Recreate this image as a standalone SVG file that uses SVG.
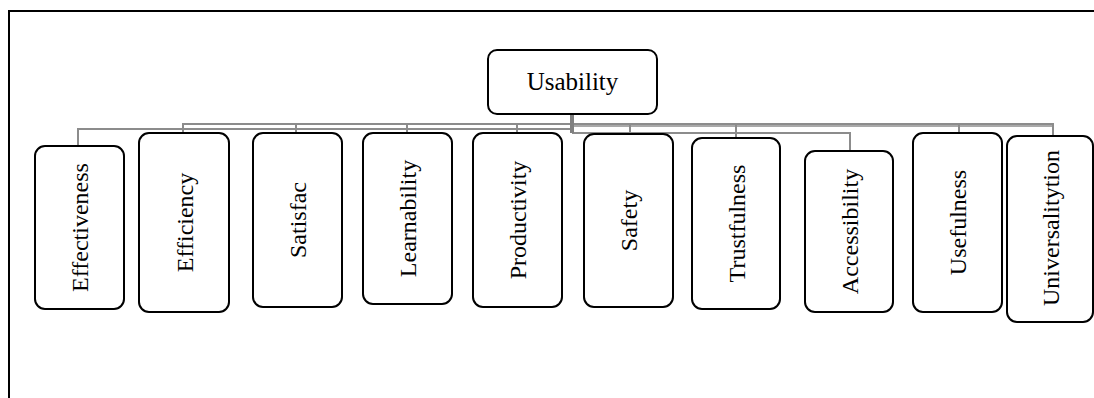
<svg xmlns="http://www.w3.org/2000/svg" width="1094" height="398" viewBox="0 0 1094 398">
<style>
.box{fill:#fff;stroke:#000;stroke-width:2}
.lbl{font-family:"Liberation Serif","Times New Roman",serif;font-size:24px;fill:#000;text-anchor:middle}
.conn{fill:none;stroke:#8c8c8c;stroke-width:2}
</style>
<rect width="1094" height="398" fill="#fff"/>
<path d="M9,400 V11 H1094" fill="none" stroke="#000" stroke-width="2"/>
<g id="connectors">
<path class="conn" d="M78,146 V129 H572"/>
<path class="conn" d="M183,133 V124 H1053 V136"/>
<path class="conn" d="M296,133 V124"/>
<path class="conn" d="M407,133 V124"/>
<path class="conn" d="M517,133 V124"/>
<path class="conn" d="M572,133 H850 V151"/>
<path class="conn" d="M630,134 V124"/>
<path class="conn" d="M736,138 V124"/>
<path class="conn" d="M959,133 V124"/>
<path d="M572,114 V133" stroke="#808080" stroke-width="4" fill="none"/>
<path d="M574,126 H1053" stroke="#8c8c8c" stroke-width="1.5" fill="none"/>
</g>
<g id="usability"><rect class="box" x="488" y="50" width="169" height="64" rx="9"/><text class="lbl" x="572.5" y="90" style="font-size:25px">Usability</text></g>
<g id="effectiveness"><rect class="box" x="35" y="146" width="89" height="163" rx="10"/><text class="lbl" transform="translate(88,227.5) rotate(-90)">Effectiveness</text></g>
<g id="efficiency"><rect class="box" x="139" y="133" width="90" height="179" rx="10"/><text class="lbl" transform="translate(192.5,222.5) rotate(-90)">Efficiency</text></g>
<g id="satisfac"><rect class="box" x="253" y="133" width="89" height="174" rx="10"/><text class="lbl" transform="translate(306,220) rotate(-90)">Satisfac</text></g>
<g id="learnability"><rect class="box" x="363" y="133" width="89" height="171" rx="10"/><text class="lbl" transform="translate(416,218.5) rotate(-90)">Learnability</text></g>
<g id="productivity"><rect class="box" x="473" y="133" width="89" height="174" rx="10"/><text class="lbl" transform="translate(526,220) rotate(-90)">Productivity</text></g>
<g id="safety"><rect class="box" x="584" y="134" width="89" height="173" rx="10"/><text class="lbl" transform="translate(637,220.5) rotate(-90)">Safety</text></g>
<g id="trustfulness"><rect class="box" x="692" y="138" width="88" height="171" rx="10"/><text class="lbl" transform="translate(744.5,223.5) rotate(-90)">Trustfulness</text></g>
<g id="accessibility"><rect class="box" x="805" y="151" width="88" height="161" rx="10"/><text class="lbl" transform="translate(857.5,231.5) rotate(-90)">Accessibility</text></g>
<g id="usefulness"><rect class="box" x="913" y="133" width="89" height="179" rx="10"/><text class="lbl" transform="translate(966,222.5) rotate(-90)">Usefulness</text></g>
<g id="universalitytion"><rect class="box" x="1007" y="136" width="86" height="186" rx="10"/><text class="lbl" transform="translate(1058.5,228) rotate(-90)">Universalitytion</text></g>
</svg>
